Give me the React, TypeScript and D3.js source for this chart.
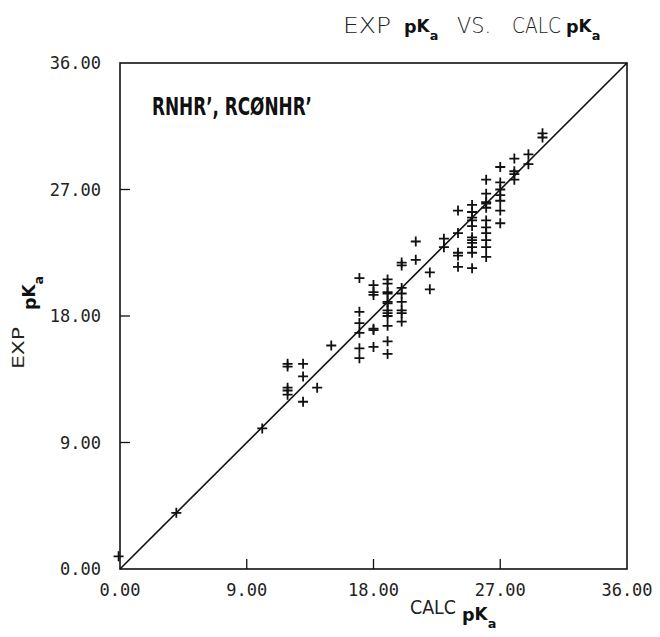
import React from "react";
import * as d3 from "d3";

const W = 660;
const H = 637;

const axisTicks = [0, 9, 18, 27, 36];
const tickLabels = ["0.00", "9.00", "18.00", "27.00", "36.00"];
const innerTicks = [9, 18, 27];
const diagonal = [0, 36];

const calcValues = [
  -0.1, 4.0, 10.1,
  11.9, 11.9, 11.9, 11.9, 11.9,
  13.0, 13.0, 13.0,
  14.0, 15.0,
  17.0, 17.0, 17.0, 17.0, 17.0, 17.0,
  18.0, 18.0, 18.0, 18.0, 18.0, 18.0,
  19.0, 19.0, 19.0, 19.0, 19.0, 19.0, 19.0, 19.0, 19.0, 19.0, 19.0, 19.0,
  20.0, 20.0, 20.0, 20.0, 20.0, 20.0, 20.0, 20.0,
  21.0, 21.0,
  22.0, 22.0,
  23.0, 23.0,
  24.0, 24.0, 24.0, 24.0, 24.0,
  25.0, 25.0, 25.0, 25.0, 25.0, 25.0, 25.0, 25.0, 25.0, 25.0, 25.0,
  26.0, 26.0, 26.0, 26.0, 26.0, 26.0, 26.0, 26.0, 26.0, 26.0, 26.0,
  27.0, 27.0, 27.0, 27.0, 27.0, 27.0, 27.0,
  28.0, 28.0, 28.0, 28.0,
  29.0, 29.0,
  30.0, 30.0,
];
const expValues = [
  0.9, 4.0, 10.0,
  14.6, 14.4, 12.9, 12.7, 12.4,
  14.6, 13.7, 11.9,
  12.9, 15.9,
  20.7, 18.3, 17.5, 16.8, 15.7, 15.0,
  20.2, 19.7, 19.5, 17.1, 17.0, 15.8,
  20.6, 20.3, 19.7, 19.6, 19.0, 18.9, 18.4, 18.2, 18.0, 17.3, 16.2, 15.3,
  21.8, 21.6, 20.0, 19.6, 19.0, 18.4, 18.2, 17.6,
  23.3, 22.0,
  21.1, 19.9,
  23.5, 22.9,
  25.5, 23.9, 22.5, 22.3, 21.5,
  25.9, 25.4, 25.0, 24.8, 24.4, 23.6, 23.4, 23.2, 22.9, 22.5, 21.4,
  27.7, 26.7, 26.1, 26.0, 25.7, 24.8, 24.3, 23.9, 23.4, 22.9, 22.2,
  28.6, 27.5, 27.0, 26.6, 26.2, 25.5, 24.6,
  29.2, 28.3, 28.1, 27.7,
  29.5, 28.8,
  31.0, 30.7,
];

const plotFont = "'DejaVu Sans Mono', 'Liberation Mono', monospace";
const labelFont = "'DejaVu Sans', 'Liberation Sans', sans-serif";

function PKa({ x, y, size }: { x: number; y: number; size: number }) {
  // bold p, K, subscript a — one text element
  return (
    <text x={x} y={y} fontFamily={labelFont} fill="#111" fontWeight="bold" fontSize={size * 1.1}>
      <tspan>p</tspan>
      <tspan dy={-size * 0.05} fontSize={size * 1.05}>K</tspan>
      <tspan dy={size * 0.5} fontSize={size * 0.8}>a</tspan>
    </text>
  );
}

export default function App() {
  const x = d3.scaleLinear().domain([0, 36]).range([120, 627]);
  const y = d3.scaleLinear().domain([0, 36]).range([569, 63]);
  const line = d3.line<number>().x((d) => x(d)).y((d) => y(d));
  const arm = 5;

  return (
    <svg
      width={W}
      height={H}
      style={{ position: "absolute", left: 0, top: 0, background: "#fff" }}
    >
      <rect x={0} y={0} width={W} height={H} fill="#fff" />
      {/* frame */}
      <rect
        x={x(0)}
        y={y(36)}
        width={x(36) - x(0)}
        height={y(0) - y(36)}
        fill="none"
        stroke="#111"
        strokeWidth={1.6}
      />
      {/* inner ticks */}
      {innerTicks.map((t) => (
        <g key={"t" + t} stroke="#111" strokeWidth={1.3}>
          <line x1={x(t)} x2={x(t)} y1={y(0)} y2={y(0) - 10} />
          <line x1={x(0)} x2={x(0) + 10} y1={y(t)} y2={y(t)} />
        </g>
      ))}
      {/* diagonal */}
      <path d={line(diagonal) || ""} stroke="#111" strokeWidth={1.6} fill="none" />
      {/* points */}
      <g stroke="#111" strokeWidth={1.8}>
        {calcValues.map((c, i) => {
          const px = x(c);
          const py = y(expValues[i]);
          return (
            <path
              key={i}
              d={`M${px - arm},${py}H${px + arm}M${px},${py - arm}V${py + arm}`}
            />
          );
        })}
      </g>
      {/* x tick labels */}
      {axisTicks.map((t, i) => (
        <text
          key={"xl" + t}
          x={x(t)}
          y={596}
          textAnchor="middle"
          fontFamily={plotFont}
          fontSize={17}
          fill="#222"
        >
          {tickLabels[i]}
        </text>
      ))}
      {/* y tick labels */}
      {axisTicks.map((t, i) => (
        <text
          key={"yl" + t}
          x={101}
          y={y(t) + 6}
          textAnchor="end"
          fontFamily={plotFont}
          fontSize={17}
          fill="#222"
        >
          {tickLabels[i]}
        </text>
      ))}
      {/* title */}
      <g fontFamily={labelFont} fontSize={21} fill="#222" fontWeight={300}>
        <text x={343} y={33} textLength={48} lengthAdjust="spacingAndGlyphs">EXP</text>
        <text x={457} y={33} textLength={34} lengthAdjust="spacingAndGlyphs">VS.</text>
        <text x={512} y={33} textLength={49} lengthAdjust="spacingAndGlyphs">CALC</text>
      </g>
      <PKa x={404} y={33} size={16} />
      <PKa x={566} y={33} size={16} />
      {/* x axis label */}
      <text
        x={410}
        y={614}
        fontFamily={labelFont}
        fontSize={19}
        fill="#222"
        textLength={46}
        lengthAdjust="spacingAndGlyphs"
      >
        CALC
      </text>
      <PKa x={462} y={621} size={16} />
      {/* y axis label */}
      <g transform="translate(24,0) rotate(-90)">
        <text
          x={-369}
          y={0}
          fontFamily={labelFont}
          fontSize={16}
          fill="#222"
          textLength={42}
          lengthAdjust="spacingAndGlyphs"
        >
          EXP
        </text>
      </g>
      <g transform="translate(36,0) rotate(-90)">
        <PKa x={-310} y={0} size={16} />
      </g>
      {/* annotation */}
      <text
        x={152}
        y={115}
        fontFamily={labelFont}
        fontSize={24}
        fontWeight="bold"
        fill="#111"
        textLength={160}
        lengthAdjust="spacingAndGlyphs"
      >
        RNHR’, RCØNHR’
      </text>
    </svg>
  );
}
